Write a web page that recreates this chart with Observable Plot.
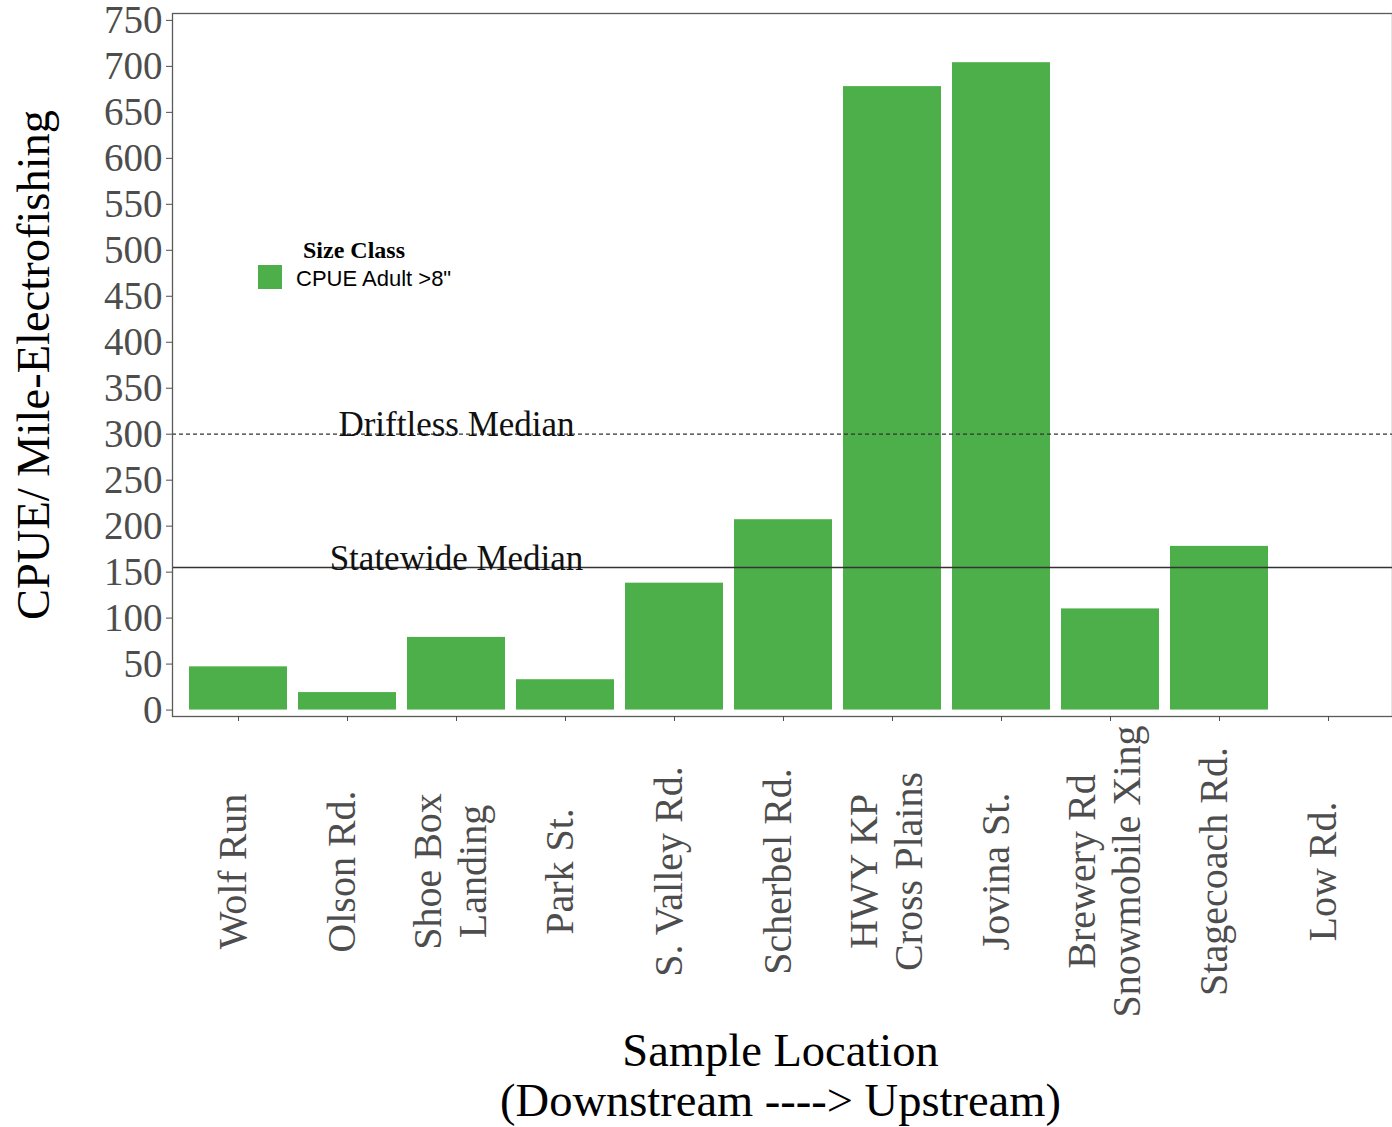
<!DOCTYPE html>
<html>
<head>
<meta charset="utf-8">
<script src="https://cdn.jsdelivr.net/npm/d3@7"></script>
<script src="https://cdn.jsdelivr.net/npm/@observablehq/plot@0.6"></script>
<style>
  html, body { margin: 0; padding: 0; background: #fff; }
  #wrap { position: relative; width: 1392px; height: 1127px; }
  .lg { position: absolute; white-space: nowrap; line-height: 1; }
</style>
</head>
<body>
<div id="wrap"></div>
<script>
// ---- data ----
const locations = ["Wolf Run", "Olson Rd.", "Shoe Box\nLanding", "Park St.", "S. Valley Rd.", "Scherbel Rd.",
  "HWY KP\nCross Plains", "Jovina St.", "Brewery Rd\nSnowmobile Xing", "Stagecoach Rd.", "Low Rd."];
const cpue = [47, 19, 79, 33, 138, 207, 678, 704, 110, 178, 0];
const medianLabels = ["Driftless Median", "Statewide Median"];
const medianValues = [300, 155];
const medianDashed = [true, false];
const yTicks = [0, 50, 100, 150, 200, 250, 300, 350, 400, 450, 500, 550, 600, 650, 700, 750];
const legendTitle = "Size Class";
const legendLabel = "CPUE Adult >8\"";
const xTitle = "Sample Location\n(Downstream ----> Upstream)";
const yTitle = "CPUE/ Mile-Electrofishing";

const rows = locations.map((loc, i) => ({loc, v: cpue[i]}));
const medians = medianLabels.map((label, i) => ({label, v: medianValues[i], dashed: medianDashed[i]}));
const green = "#4daf4a";
const serif = "Liberation Serif, Times New Roman, serif";

const chart = Plot.plot({
  width: 1392,
  height: 1127,
  marginTop: 13,
  marginBottom: 411,
  marginLeft: 172,
  marginRight: 0,
  style: {fontFamily: serif, background: "#fff"},
  x: {domain: locations, range: [172, 1395], paddingInner: 0.1, paddingOuter: 0.15, label: null},
  y: {domain: [-7, 757.5], label: null},
  marks: [
    Plot.barY(rows, {x: "loc", y: "v", fill: green}),
    Plot.ruleY(medians.filter(d => d.dashed), {y: "v", stroke: "#333", strokeWidth: 1.2, strokeDasharray: "4,3"}),
    Plot.ruleY(medians.filter(d => !d.dashed), {y: "v", stroke: "#333", strokeWidth: 1.5}),
    Plot.text(medians, {x: () => locations[2], y: "v", text: "label", lineAnchor: "bottom", dy: 2,
      fontSize: 35, fill: "#111", fontFamily: serif}),
    Plot.frame({stroke: "#5a5a5a", strokeWidth: 1.3}),
    Plot.axisY({ticks: yTicks, tickSize: 6, tickPadding: 4, fontSize: 39, color: "#4d4d4d", label: null, fontFamily: serif}),
    Plot.axisX({tickSize: 5, tickFormat: () => "", label: null, color: "#4d4d4d"}),
    Plot.text(locations, {x: d => d, text: d => d, frameAnchor: "bottom", dy: 155, dx: -7, rotate: -90,
      textAnchor: "middle", lineAnchor: "middle", lineHeight: 1.12, fontSize: 40, fill: "#4d4d4d", fontFamily: serif}),
    Plot.text([xTitle], {text: d => d, frameAnchor: "bottom", dy: 314, dx: -2, lineAnchor: "top", lineHeight: 1.07,
      textAnchor: "middle", fontSize: 46.5, fill: "#000", fontFamily: serif}),
    Plot.text([yTitle], {text: d => d, frameAnchor: "left", dx: -138, rotate: -90, lineAnchor: "middle",
      textAnchor: "middle", fontSize: 46.5, fill: "#000", fontFamily: serif})
  ]
});

const wrap = document.getElementById("wrap");
wrap.appendChild(chart);

// legend
const t = document.createElement("div");
t.className = "lg";
t.style.cssText = `left:303px;top:237px;font:bold 24px ${serif};color:#000;`;
t.textContent = legendTitle;
wrap.appendChild(t);
const sw = document.createElement("div");
sw.className = "lg";
sw.style.cssText = `left:258px;top:265px;width:24px;height:24px;background:${green};`;
wrap.appendChild(sw);
const lb = document.createElement("div");
lb.className = "lg";
lb.style.cssText = `left:296px;top:266px;font:22px "Liberation Sans", Arial, sans-serif;color:#000;`;
lb.textContent = legendLabel;
wrap.appendChild(lb);
</script>
</body>
</html>
